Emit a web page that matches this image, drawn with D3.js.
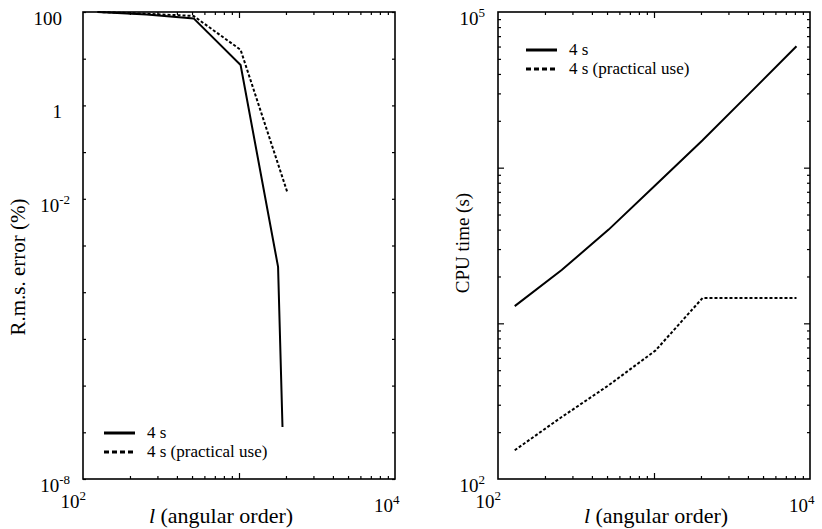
<!DOCTYPE html>
<html>
<head>
<meta charset="utf-8">
<script src="https://cdn.jsdelivr.net/npm/d3@7"></script>
<style>
  body { margin: 0; background: #fff; }
</style>
</head>
<body>
<div id="chart"></div>
<script>
// left panel: r.m.s. error vs angular order
const errL = [124, 256, 512, 1024, 1780, 1900];
const errSolid = [100, 88, 73, 7.3, 3.5e-4, 1.3e-7];
const errLDash = [124, 256, 512, 1024, 2048];
const errDashed = [100, 92, 82, 15.5, 0.0133];

// right panel: CPU time vs angular order
const cpuL = [128, 256, 512, 1024, 2048, 4096, 8192];
const cpuSolid = [1290, 2200, 4000, 7740, 15000, 30000, 60300];
const cpuDashed = [153, 250, 400, 670, 1455, 1455, 1455];

const legendNames = ['4 s', '4 s (practical use)'];
const errTicks = [100, 1, 1e-2, 1e-8];
const errTickText = [['100', ''], ['1', ''], ['10', '-2'], ['10', '-8']];
const cpuTicks = [1e5, 1e2];
const cpuTickText = [['10', '5'], ['10', '2']];
const lTicks = [1e2, 1e4];
const lTickText = [['10', '2'], ['10', '4']];

const FONT = "'Liberation Serif', 'Times New Roman', Times, 'DejaVu Serif', serif";
const W = 822, H = 529;
const svg = d3.select('#chart').append('svg').attr('width', W).attr('height', H)
  .attr('font-family', FONT);

function minorTicks(lo, hi) {
  const out = [];
  for (let e = lo; e < hi; e++) for (let k = 2; k <= 9; k++) out.push(k * Math.pow(10, e));
  return out;
}
function decades(lo, hi) {
  const out = [];
  for (let e = lo; e <= hi; e++) out.push(Math.pow(10, e));
  return out;
}

function addLabel(g, x, y, parts, anchor) {
  const t = g.append('text').attr('x', x).attr('y', y).attr('text-anchor', anchor)
    .attr('font-family', FONT).attr('font-size', 19);
  t.append('tspan').text(parts[0]);
  if (parts[1]) t.append('tspan').attr('dy', -8).attr('font-size', 13).text(parts[1]);
}

function panel(opt) {
  const x = d3.scaleLog().domain([1e2, 1e4]).range([opt.x0, opt.x1]);
  const y = d3.scaleLog().domain(opt.ydom).range([opt.y1, opt.y0]);
  const g = svg.append('g');

  // ticks (inward) on all four sides
  const lo = Math.log10(opt.ydom[0]), hi = Math.log10(opt.ydom[1]);
  const yt = opt.yMinor ? minorTicks(lo, hi) : decades(lo, hi);
  const xt = minorTicks(2, 4);
  const axes = [
    [d3.axisBottom(x).tickValues(xt).tickSize(-3), `translate(0,${opt.y1})`],
    [d3.axisBottom(x).tickValues([1e3]).tickSize(-6), `translate(0,${opt.y1})`],
    [d3.axisTop(x).tickValues(xt).tickSize(-3), `translate(0,${opt.y0})`],
    [d3.axisTop(x).tickValues([1e3]).tickSize(-6), `translate(0,${opt.y0})`],
    [d3.axisLeft(y).tickValues(yt).tickSize(-3), `translate(${opt.x0},0)`],
    [d3.axisRight(y).tickValues(yt).tickSize(-3), `translate(${opt.x1},0)`]
  ];
  if (opt.yMinor) {
    const ym = decades(lo + 1, hi - 1);
    axes.push([d3.axisLeft(y).tickValues(ym).tickSize(-6), `translate(${opt.x0},0)`]);
    axes.push([d3.axisRight(y).tickValues(ym).tickSize(-6), `translate(${opt.x1},0)`]);
  }
  axes.forEach(([a, tr]) => {
    g.append('g').attr('transform', tr)
      .call(a.tickFormat('').tickSizeOuter(0))
      .call((s) => s.select('.domain').remove())
      .selectAll('line').attr('stroke', '#000').attr('stroke-width', 1.2);
  });
  g.append('rect').attr('x', opt.x0).attr('y', opt.y0)
    .attr('width', opt.x1 - opt.x0).attr('height', opt.y1 - opt.y0)
    .attr('fill', 'none').attr('stroke', '#000').attr('stroke-width', 1.6);

  // tick labels
  opt.yTicks.forEach((v, i) => {
    const p = opt.yTickText[i];
    addLabel(g, opt.x0 - (p[1] ? 13 : 21), y(v) + 13, p, 'end');
  });
  addLabel(g, x(lTicks[0]) + 3, opt.y1 + 29, lTickText[0], 'end');
  addLabel(g, x(lTicks[1]) - 21, opt.y1 + 33, lTickText[1], 'start');

  // axis titles
  const xt2 = g.append('text').attr('x', opt.xTitleX).attr('y', 523)
    .attr('text-anchor', 'middle').attr('font-family', FONT).attr('font-size', 22);
  xt2.append('tspan').attr('font-style', 'italic').text('l');
  xt2.append('tspan').text(' (angular order)');
  g.append('text').attr('transform', `translate(${opt.yTitleX},${opt.yTitleY}) rotate(-90)`)
    .attr('text-anchor', 'middle').attr('font-family', FONT).attr('font-size', opt.yTitleSize)
    .text(opt.yTitle);

  // data lines
  const line = d3.line().x((d) => x(d[0])).y((d) => y(d[1]));
  g.append('path').datum(d3.zip(opt.ls, opt.solid)).attr('d', line)
    .attr('fill', 'none').attr('stroke', '#000').attr('stroke-width', 2);
  g.append('path').datum(d3.zip(opt.ld, opt.dashed)).attr('d', line)
    .attr('fill', 'none').attr('stroke', '#000').attr('stroke-width', 2).attr('stroke-dasharray', '3,2');

  // legend
  legendNames.forEach((name, i) => {
    const ly = opt.legY + i * 19;
    g.append('line').attr('x1', opt.legX).attr('x2', opt.legX + 31).attr('y1', ly).attr('y2', ly)
      .attr('stroke', '#000').attr('stroke-width', 3).attr('stroke-dasharray', i ? '5,3' : null);
    g.append('text').attr('x', opt.legX + 43).attr('y', ly + 5)
      .attr('font-family', FONT).attr('font-size', 17).text(name);
  });
}

panel({
  x0: 83, x1: 395, y0: 12, y1: 479, ydom: [1e-8, 1e2], yMinor: false,
  yTicks: errTicks, yTickText: errTickText,
  ls: errL, solid: errSolid, ld: errLDash, dashed: errDashed,
  xTitleX: 221, yTitleX: 25, yTitleY: 267, yTitleSize: 21, yTitle: 'R.m.s. error (%)',
  legX: 104, legY: 433
});

panel({
  x0: 498, x1: 810, y0: 12, y1: 479, ydom: [1e2, 1e5], yMinor: true,
  yTicks: cpuTicks, yTickText: cpuTickText,
  ls: cpuL, solid: cpuSolid, ld: cpuL, dashed: cpuDashed,
  xTitleX: 656, yTitleX: 469, yTitleY: 243, yTitleSize: 19, yTitle: 'CPU time (s)',
  legX: 526, legY: 50
});
</script>
</body>
</html>
